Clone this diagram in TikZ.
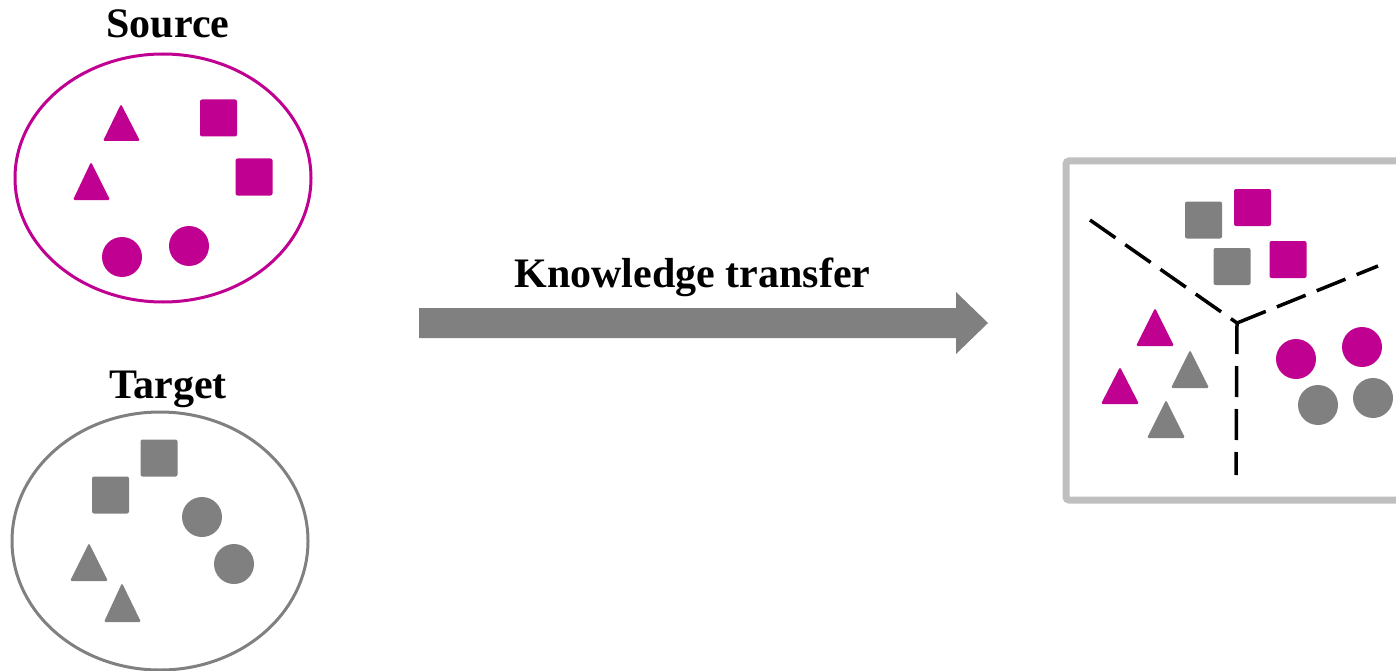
\documentclass[tikz,border=0pt]{standalone}
\usepackage{fontspec}
\setmainfont{Liberation Serif}
\usetikzlibrary{shapes.geometric}
\definecolor{mag}{RGB}{192,0,144}
\definecolor{midgray}{RGB}{128,128,128}
\definecolor{frame}{RGB}{191,191,191}

\begin{document}
\begin{tikzpicture}[x=1pt, y=-1pt,
    lbl/.style={anchor=base, inner sep=0pt, font=\fontsize{42}{48}\selectfont\bfseries},
    dot/.style={circle, inner sep=0pt, minimum size=40pt},
    sq/.style={rectangle, inner sep=0pt, minimum size=37pt, rounded corners=2pt},
    tri/.style={rounded corners=1.5pt},
    cut/.style={line width=3.5pt, dash pattern=on 31pt off 12pt}]
    \useasboundingbox (0,0) rectangle (1396,671);
    \clip (0,0) rectangle (1396,671);

    % source set
    \node[lbl] (srclbl) at (168, 38) {Source};
    \node[draw=mag, ellipse, line width=3pt, minimum width=296pt, minimum height=248pt] (src) at (163, 178) {};
    \fill[mag, tri] (121, 104) -- (140, 141) -- (103, 141) -- cycle;
    \fill[mag, tri] (91, 162) -- (110, 200) -- (73, 200) -- cycle;
    \node[sq, fill=mag] (s1) at (218.5, 118) {};
    \node[sq, fill=mag] (s2) at (254, 177) {};
    \node[dot, fill=mag] (c1) at (122, 257) {};
    \node[dot, fill=mag] (c2) at (189, 246) {};

    % target set
    \node[lbl] (tgtlbl) at (168, 398) {Target};
    \node[draw=midgray, ellipse, line width=3pt, minimum width=296pt, minimum height=258pt] (tgt) at (160, 541) {};
    \node[sq, fill=midgray] (t1) at (159, 458) {};
    \node[sq, fill=midgray] (t2) at (110.5, 495) {};
    \node[dot, fill=midgray] (d1) at (202, 517) {};
    \node[dot, fill=midgray] (d2) at (234, 564) {};
    \fill[midgray, tri] (89, 543) -- (108, 581) -- (70, 581) -- cycle;
    \fill[midgray, tri] (122, 583) -- (141, 622) -- (104, 622) -- cycle;

    % transfer
    \node[lbl] (ktlbl) at (692.5, 287) {Knowledge transfer};
    \fill[midgray] (419, 308) -- (956, 308) -- (956, 292) -- (988, 323)
        -- (956, 354) -- (956, 338) -- (419, 338) -- cycle;

    % result
    \draw[frame, line width=7pt, rounded corners=3pt] (1066, 161) rectangle (1420, 500);
    \node[sq, fill=midgray] (r1) at (1203.5, 220) {};
    \node[sq, fill=mag] (r2) at (1252.5, 207.5) {};
    \node[sq, fill=midgray] (r3) at (1232, 266.5) {};
    \node[sq, fill=mag] (r4) at (1288, 259.5) {};
    \fill[mag, tri] (1155, 308) -- (1174, 346) -- (1136, 346) -- cycle;
    \fill[midgray, tri] (1190, 350) -- (1209, 388) -- (1171, 388) -- cycle;
    \fill[mag, tri] (1120, 367) -- (1139, 404) -- (1101, 404) -- cycle;
    \fill[midgray, tri] (1166, 400) -- (1185, 438) -- (1147, 438) -- cycle;
    \node[dot, fill=mag] (e1) at (1296, 359) {};
    \node[dot, fill=mag] (e2) at (1362, 347) {};
    \node[dot, fill=midgray] (e3) at (1318, 405) {};
    \node[dot, fill=midgray] (e4) at (1373, 398) {};

    \coordinate (j) at (1237, 323);
    \coordinate (ja) at (1090, 220);
    \coordinate (jb) at (1378, 266);
    \coordinate (jc) at (1236, 475);
    \draw[cut] (ja) -- (j);
    \draw[cut] (j) -- (jb);
    \draw[cut] (j) -- (jc);
\end{tikzpicture}
\end{document}
